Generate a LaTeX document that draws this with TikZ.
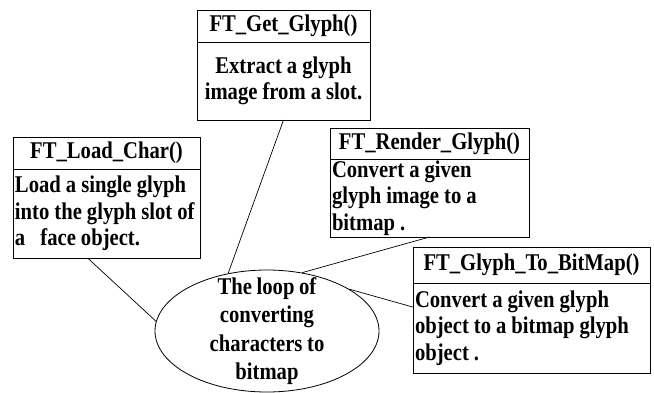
\documentclass[tikz,border=0pt]{standalone}
\usepackage{fontspec}
\setmainfont{Liberation Serif}[FakeStretch=0.86, WordSpace=0.9]
\usetikzlibrary{positioning}
\usetikzlibrary{shapes.geometric}

\tikzset{
  head/.style={draw, line width=0.9pt, inner sep=0pt, outer sep=0pt, align=center},
  body/.style={draw, line width=0.9pt, inner xsep=2pt, inner ysep=0pt, outer sep=0pt, align=left,
    execute at begin node={\spaceskip=0.21em\relax}},
  loopshape/.style={draw, ellipse, line width=0.8pt, inner sep=0pt, minimum width=224pt, minimum height=122pt},
  link/.style={line width=0.7pt}
}

\begin{document}
\begin{tikzpicture}[x=1pt, y=-1pt, font=\fontsize{24}{26.5}\selectfont\bfseries]
\useasboundingbox (0,0) rectangle (654,392);
\node[head, minimum width=173, minimum height=32] (gethead) at (283.5,26) {FT\_Get\_Glyph()};
\node[body, below=0pt of gethead, text width=169pt, align=center, minimum height=78] (getbody) {Extract a glyph\\image from a slot.};
\node[head, minimum width=187, minimum height=32] (loadhead) at (106.5,153) {FT\_Load\_Char()};
\node[body, below=0pt of loadhead, text width=183pt, minimum height=89] (loadbody) {Load a single glyph\\into the glyph slot of\\a~~~face object.};
\node[head, minimum width=199, minimum height=31] (renderhead) at (429.5,143.5) {FT\_Render\_Glyph()};
\node[body, below=0pt of renderhead, text width=195pt, minimum height=78] (renderbody) {Convert a given\\glyph image to a\\bitmap .};
\node[head, minimum width=237, minimum height=36] (bitmaphead) at (531.5,265) {FT\_Glyph\_To\_BitMap()};
\node[body, below=0pt of bitmaphead, text width=233pt, minimum height=90] (bitmapbody) {Convert a given glyph\\object to a bitmap glyph\\object .};
\node[loopshape] (loop) at (267,331) {};
\node[align=center, font=\fontsize{24}{28.5}\selectfont\bfseries] (looptext) at (loop.center) {The loop of\\converting\\characters to\\bitmap};
\draw[link] (getbody.south) -- (loop.124);
\draw[link] (loadbody.-113) -- (loop.175);
\draw[link] (renderbody.south) -- (loop.59);
\draw[link] (bitmapbody.170) -- (loop.27);
\end{tikzpicture}
\end{document}
